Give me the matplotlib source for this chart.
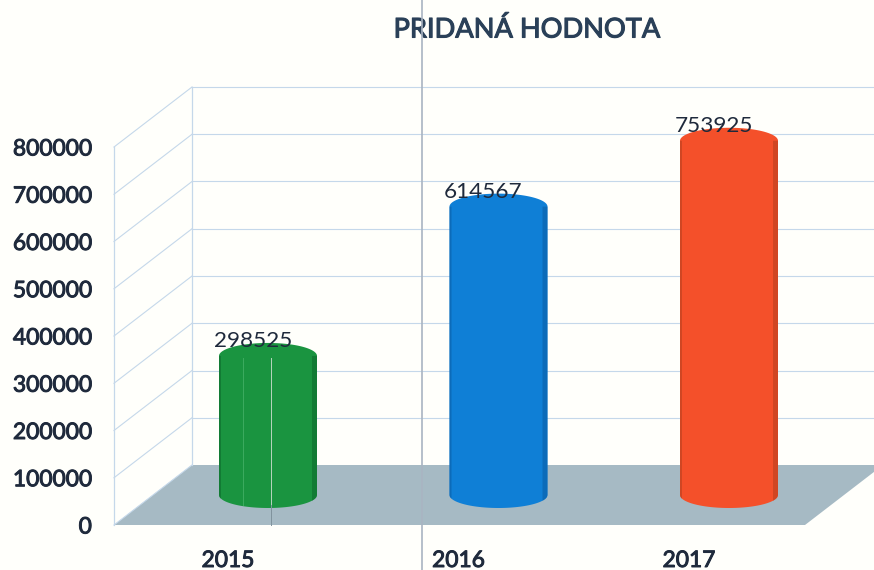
import matplotlib
matplotlib.use("Agg")
import matplotlib.pyplot as plt
import matplotlib.patheffects as pe
from matplotlib.lines import Line2D
from matplotlib.patches import Polygon
import numpy as np

years = ["2015", "2016", "2017"]
values = [298525, 614567, 753925]
colors = ["#1a9440", "#0f7fd6", "#f4502a"]
dark_colors = ["#0e6b2c", "#0b5ea6", "#b8401f"]
y_ticks = [0, 100000, 200000, 300000, 400000, 500000, 600000, 700000, 800000]

W, H = 874, 570
plt.rcParams["font.family"] = ["Lato", "DejaVu Sans"]
text_color = "#1f2a3c"
thick = [pe.withStroke(linewidth=0.7, foreground=text_color)]

fig = plt.figure(figsize=(W / 100, H / 100), dpi=100, facecolor="#fffffb")
# axes = front plane of the fake 3D box
ax = fig.add_axes([114 / W, 1 - 525 / H, (W - 114) / W, 378 / H])
ax.set_facecolor("none")
ax.set_ylim(0, 800000)
x_step = 230.5
ax.set_xlim((114 - 228) / x_step, (W - 228) / x_step)

px_x = 1 / x_step
px_y = 800000 / 378
depth_x = 78 * px_x
depth_y = 60 * px_y
left = ax.get_xlim()[0]
floor_right = (805 - 228) * px_x

# floor
ax.add_patch(Polygon([(left, 0), (floor_right, 0), (floor_right + depth_x, depth_y),
                      (left + depth_x, depth_y)], closed=True, fc="#a6bac4", ec="none",
                     clip_on=False, zorder=1))

# walls
grid_c = "#c5d8ea"
for t in y_ticks:
    ax.plot([left, left + depth_x], [t, t + depth_y], color=grid_c, lw=0.8, clip_on=False, zorder=2)
    if t > 0:
        ax.plot([left + depth_x, ax.get_xlim()[1]], [t + depth_y, t + depth_y], color=grid_c, lw=0.8,
                clip_on=False, zorder=2)
ax.plot([left, left], [0, 800000], color=grid_c, lw=0.9, clip_on=False, zorder=2)
ax.plot([left + depth_x, left + depth_x], [depth_y, 800000 + depth_y], color=grid_c, lw=0.9,
        clip_on=False, zorder=2)

# cylinders
half_w = 49 * px_x
semi = 13 * px_y
base = 30 * px_y
shift = 40 * px_x
theta = np.linspace(0, np.pi, 60)

for i, val in enumerate(values):
    cx = i + shift
    top = base + val - 2 * px_y
    xs = np.r_[cx + half_w * np.cos(theta), cx - half_w * np.cos(theta)]
    ys = np.r_[top + semi * np.sin(theta), base - semi * np.sin(theta)]
    ax.add_patch(Polygon(np.c_[xs, ys], closed=True, fc=colors[i], ec="none", zorder=3, clip_on=False))
    # darker side edges, following the bottom curve
    for side, edge_px in ((-1, 2), (1, 5)):
        ex = cx + side * half_w * np.linspace(1 - edge_px / 49, 1, 8)
        ey = base - semi * np.sqrt(np.clip(1 - ((ex - cx) / half_w) ** 2, 0, 1))
        px = np.r_[ex, ex[::-1]]
        py = np.r_[ey, np.full(8, top)]
        ax.add_patch(Polygon(np.c_[px, py], closed=True, fc=dark_colors[i], ec="none", alpha=0.6,
                             zorder=4, clip_on=False))
    ax.text(cx - 15 * px_x, top + 15 * px_y, str(val), ha="center", va="center", fontsize=16.2,
            color=text_color, zorder=6, clip_on=False)

# axis labels
for s in ax.spines.values():
    s.set_visible(False)
ax.set_yticks(y_ticks)
ax.set_yticklabels([str(t) for t in y_ticks], fontsize=16.4, color=text_color)
ax.set_xticks(range(len(years)))
ax.set_xticklabels(years, fontsize=16.4, color=text_color)
ax.tick_params(axis="y", length=0, pad=16)
ax.tick_params(axis="x", length=0, pad=18)
for lab in ax.get_yticklabels() + ax.get_xticklabels():
    lab.set_path_effects(thick)

fig.text(527 / W, 1 - 30 / H, "PRIDANÁ HODNOTA", ha="center", va="center", fontsize=19.6,
         color="#2a4058", path_effects=[pe.withStroke(linewidth=0.8, foreground="#2a4058")])

# scan artefact lines
fig.add_artist(Line2D([422 / W, 422 / W], [0, 1], color="#a9b4c2", lw=1.2, zorder=10))
fig.add_artist(Line2D([271 / W, 271 / W], [1 - 505 / H, 1 - 358 / H], color="#b9d6bf", lw=0.7, zorder=10))
fig.add_artist(Line2D([271 / W, 271 / W], [1 - 525 / H, 1 - 505 / H], color="#7f929c", lw=0.7, zorder=10))
fig.add_artist(Line2D([243 / W, 243 / W], [1 - 505 / H, 1 - 358 / H], color="#3dab5f", lw=0.7, zorder=10))

fig.savefig("out.png", dpi=100, facecolor=fig.get_facecolor())
